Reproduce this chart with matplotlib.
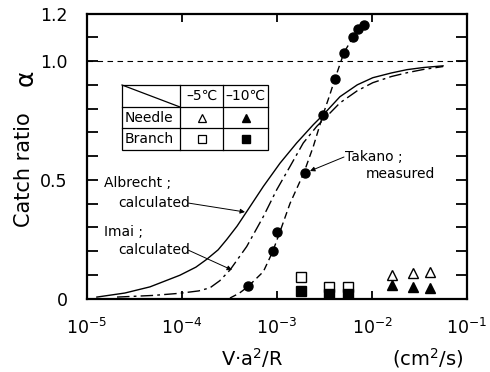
import matplotlib
matplotlib.use("Agg")
import matplotlib.pyplot as plt
from matplotlib.lines import Line2D
import matplotlib.patches as mpatches
import matplotlib.ticker as mticker

# ---- data ----
takano_x = [4.95e-4, 9.1e-4, 1.0e-3, 1.97e-3, 3.05e-3, 4.08e-3, 5.07e-3, 6.3e-3, 7.13e-3, 8.24e-3]
takano_y = [0.053, 0.20, 0.28, 0.53, 0.774, 0.926, 1.036, 1.10, 1.137, 1.15]

takano_fit_x = [3.2e-4, 4.0e-4, 4.95e-4, 7.18e-4, 9.0e-4, 1.076e-3, 1.37e-3, 1.92e-3, 2.41e-3,
                3.05e-3, 3.61e-3, 4.08e-3, 5.07e-3, 6.3e-3, 7.13e-3, 8.24e-3]
takano_fit_y = [0.002, 0.022, 0.05, 0.113, 0.197, 0.282, 0.40, 0.53, 0.64,
                0.774, 0.86, 0.926, 1.036, 1.10, 1.137, 1.15]

albrecht_x = [1.27e-5, 2.5e-5, 4.6e-5, 9.5e-5, 1.4e-4, 1.82e-4, 2.4e-4, 2.95e-4, 3.8e-4, 4.8e-4, 7.18e-4,
              1.076e-3, 1.61e-3, 2.41e-3, 3.07e-3, 4.6e-3, 7e-3, 1.02e-2, 1.6e-2, 2.34e-2, 3.5e-2, 5.6e-2]
albrecht_y = [0.006, 0.023, 0.049, 0.098, 0.132, 0.165, 0.205, 0.248, 0.305, 0.366, 0.472,
              0.570, 0.655, 0.732, 0.774, 0.85, 0.90, 0.93, 0.95, 0.964, 0.973, 0.98]

imai_x = [2.07e-5, 5.0e-5, 9.5e-5, 1.5e-4, 1.97e-4, 2.5e-4, 3.2e-4, 4.8e-4, 7.18e-4, 9.93e-4, 1.37e-3,
          1.89e-3, 2.62e-3, 3.61e-3, 4.6e-3, 7e-3, 1.02e-2, 1.6e-2, 2.34e-2, 3.5e-2, 5.6e-2]
imai_y = [0.006, 0.013, 0.022, 0.032, 0.045, 0.075, 0.12, 0.219, 0.345, 0.458, 0.556,
          0.655, 0.725, 0.781, 0.824, 0.875, 0.909, 0.935, 0.951, 0.965, 0.977]

needle_x = [1.62e-2, 2.69e-2, 4.07e-2]
needle_m5_y = [0.099, 0.108, 0.112]
needle_m10_y = [0.057, 0.049, 0.044]

branch_x = [1.79e-3, 3.52e-3, 5.58e-3]
branch_m5_y = [0.091, 0.049, 0.049]
branch_m10_y = [0.032, 0.019, 0.019]

y_ticks = [0.0, 0.1, 0.2, 0.3, 0.4, 0.5, 0.6, 0.7, 0.8, 0.9, 1.0, 1.1, 1.2]
y_labels = {0.0: "0", 0.5: "0.5", 1.0: "1.0", 1.2: "1.2"}
x_ticks = [1e-5, 1e-4, 1e-3, 1e-2, 1e-1]
x_labels = [r"$10^{-5}$", r"$10^{-4}$", r"$10^{-3}$", r"$10^{-2}$", r"$10^{-1}$"]

W, H = 490, 372
plt.rcParams['mathtext.fontset'] = 'dejavusans'
fig = plt.figure(figsize=(W / 100, H / 100), dpi=100)


def fx(px):
    return px / W


def fy(py):
    return 1 - py / H


L, R, T, B = 87, 467, 13.6, 298.5
ax = fig.add_axes([fx(L), fy(B), (R - L) / W, (B - T) / H])
ax.set_xscale("log")
ax.set_xlim(1e-5, 1e-1)
ax.set_ylim(0, 1.2)

for s in ax.spines.values():
    s.set_linewidth(1.6)

ax.set_yticks(y_ticks)
ax.set_yticklabels([y_labels.get(round(t, 1), "") for t in y_ticks], fontsize=12.5)
ax.set_xticks(x_ticks)
ax.set_xticklabels(x_labels, fontsize=12.5)
ax.xaxis.set_minor_locator(mticker.NullLocator())
ax.tick_params(axis="y", direction="in", length=8, width=1.3, right=True, pad=14)
ax.tick_params(axis="x", direction="in", length=6, width=1.3, top=True, pad=14)

# horizontal dashed line at 1.0
ax.axhline(1.0, color="black", lw=0.8, ls=(0, (5, 4)))

ax.plot(albrecht_x, albrecht_y, color="black", lw=1.0)
ax.plot(imai_x, imai_y, color="black", lw=1.0, ls=(0, (9, 3, 2, 3)))
ax.plot(takano_fit_x, takano_fit_y, color="black", lw=1.0, ls=(0, (5, 3)))
ax.plot(takano_x, takano_y, "o", color="black", ms=6.5)

ax.plot(branch_x, branch_m5_y, "s", mfc="white", mec="black", mew=1.0, ms=6.5)
ax.plot(branch_x, branch_m10_y, "s", color="black", ms=6.5)
ax.plot(needle_x, needle_m5_y, "^", mfc="white", mec="black", mew=1.0, ms=7)
ax.plot(needle_x, needle_m10_y, "^", color="black", ms=7)

fs = 10
# annotations
fig.text(fx(104), fy(183), "Albrecht ;", fontsize=fs, va="center", ha="left")
fig.text(fx(118), fy(203), "calculated", fontsize=fs, va="center", ha="left")
fig.text(fx(104), fy(232), "Imai ;", fontsize=fs, va="center", ha="left")
fig.text(fx(118), fy(250), "calculated", fontsize=fs, va="center", ha="left")
fig.text(fx(345), fy(157), "Takano ;", fontsize=fs, va="center", ha="left")
fig.text(fx(366), fy(174), "measured", fontsize=fs, va="center", ha="left")

arrowprops = dict(arrowstyle="-|>", color="black", lw=0.7, mutation_scale=7, shrinkA=0, shrinkB=0)
fig.add_artist(mpatches.FancyArrowPatch((fx(188), fy(203)), (fx(245), fy(212)),
               transform=fig.transFigure, **arrowprops))
fig.add_artist(mpatches.FancyArrowPatch((fx(188), fy(250)), (fx(232), fy(270)),
               transform=fig.transFigure, **arrowprops))
fig.add_artist(mpatches.FancyArrowPatch((fx(344), fy(157)), (fx(310), fy(171)),
               transform=fig.transFigure, **arrowprops))

# legend table
tx0, tx1, tx2, tx3 = 122, 180, 223, 268
ty0, ty1, ty2, ty3 = 85, 107, 128, 150
lw_t = 0.9


def fline(x0, y0, x1, y1):
    fig.add_artist(Line2D([fx(x0), fx(x1)], [fy(y0), fy(y1)], transform=fig.transFigure,
                          color="black", lw=lw_t))


fig.add_artist(mpatches.Rectangle((fx(tx0), fy(ty3)), fx(tx3) - fx(tx0), fy(ty0) - fy(ty3),
               transform=fig.transFigure, facecolor="white", edgecolor="black", lw=lw_t))
fline(tx0, ty1, tx3, ty1)
fline(tx0, ty2, tx3, ty2)
fline(tx1, ty0, tx1, ty3)
fline(tx2, ty0, tx2, ty3)
fline(tx0, ty0, tx1, ty1)

fig.text(fx((tx1 + tx2) / 2), fy((ty0 + ty1) / 2), "–5℃", fontsize=fs, ha="center", va="center")
fig.text(fx((tx2 + tx3) / 2), fy((ty0 + ty1) / 2), "–10℃", fontsize=fs, ha="center", va="center")
fig.text(fx(tx0 + 3), fy((ty1 + ty2) / 2), "Needle", fontsize=fs, ha="left", va="center")
fig.text(fx(tx0 + 3), fy((ty2 + ty3) / 2), "Branch", fontsize=fs, ha="left", va="center")

cx1, cx2 = (tx1 + tx2) / 2, (tx2 + tx3) / 2
r1, r2 = (ty1 + ty2) / 2, (ty2 + ty3) / 2
fig.add_artist(Line2D([fx(cx1)], [fy(r1)], marker="^", mfc="white", mec="black", mew=0.9, ms=6,
                      transform=fig.transFigure))
fig.add_artist(Line2D([fx(cx2)], [fy(r1)], marker="^", color="black", ms=6, transform=fig.transFigure))
fig.add_artist(Line2D([fx(cx1)], [fy(r2)], marker="s", mfc="white", mec="black", mew=0.9, ms=5.5,
                      transform=fig.transFigure))
fig.add_artist(Line2D([fx(cx2)], [fy(r2)], marker="s", color="black", ms=5.5, transform=fig.transFigure))

# axis labels
fig.text(fx(252), fy(358), "V·a$^2$/R", fontsize=14, ha="center", va="center")
fig.text(fx(428), fy(358), "(cm$^2$/s)", fontsize=14, ha="center", va="center")
fig.text(fx(24), fy(170), "Catch ratio", fontsize=15, rotation=90, ha="center", va="center")
fig.text(fx(26), fy(78), "α", fontsize=18, rotation=90, ha="center", va="center")

fig.savefig("out.png", dpi=100)
